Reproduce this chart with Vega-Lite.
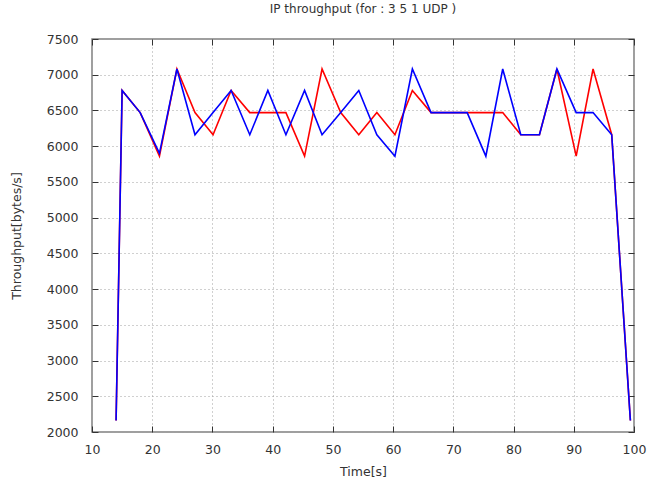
{
  "$schema": "https://vega.github.io/schema/vega-lite/v6.json",
  "autosize": "none",
  "width": 542,
  "height": 393,
  "padding": {"left": 92, "top": 39, "right": 14, "bottom": 53},
  "background": "white",
  "title": {"text": "IP throughput (for : 3 5 1 UDP )", "font": "DejaVu Sans", "fontSize": 12, "fontWeight": "normal", "color": "#333", "offset": 17},
  "config": {
    "view": {"stroke": "#808080", "strokeWidth": 1.5},
    "axis": {
      "labelFont": "DejaVu Sans", "labelFontSize": 12.5, "labelColor": "#333", "labelFlush": false,
      "titleFont": "DejaVu Sans", "titleFontSize": 12.5, "titleFontWeight": "normal", "titleColor": "#333",
      "domain": false, "tickColor": "#333", "tickSize": -6, "format": "d",
      "gridColor": "#a0a0a0", "gridDash": [1, 3], "gridOpacity": 1, "gridWidth": 1
    }
  },
  "datasets": {
    "red": [
      {"t": 14.0, "v": 2160}, {"t": 15.0, "v": 6780}, {"t": 18.0, "v": 6470}, {"t": 21.2, "v": 5860},
      {"t": 24.1, "v": 7080}, {"t": 27.1, "v": 6470}, {"t": 30.1, "v": 6160}, {"t": 33.1, "v": 6780},
      {"t": 36.2, "v": 6470}, {"t": 39.2, "v": 6470}, {"t": 42.2, "v": 6470}, {"t": 45.3, "v": 5860},
      {"t": 48.2, "v": 7080}, {"t": 51.3, "v": 6470}, {"t": 54.3, "v": 6160}, {"t": 57.3, "v": 6470},
      {"t": 60.3, "v": 6160}, {"t": 63.2, "v": 6780}, {"t": 66.3, "v": 6470}, {"t": 69.3, "v": 6470},
      {"t": 72.3, "v": 6470}, {"t": 75.4, "v": 6470}, {"t": 78.2, "v": 6470}, {"t": 81.2, "v": 6160},
      {"t": 84.3, "v": 6160}, {"t": 87.2, "v": 7080}, {"t": 90.4, "v": 5860}, {"t": 93.2, "v": 7080},
      {"t": 96.3, "v": 6160}, {"t": 99.4, "v": 2160}
    ],
    "blue": [
      {"t": 14.0, "v": 2160}, {"t": 15.0, "v": 6780}, {"t": 18.0, "v": 6470}, {"t": 21.2, "v": 5900},
      {"t": 24.1, "v": 7080}, {"t": 27.1, "v": 6160}, {"t": 30.1, "v": 6470}, {"t": 33.1, "v": 6780},
      {"t": 36.2, "v": 6160}, {"t": 39.2, "v": 6780}, {"t": 42.2, "v": 6160}, {"t": 45.3, "v": 6780},
      {"t": 48.2, "v": 6160}, {"t": 51.3, "v": 6470}, {"t": 54.3, "v": 6780}, {"t": 57.3, "v": 6160},
      {"t": 60.3, "v": 5860}, {"t": 63.2, "v": 7080}, {"t": 66.3, "v": 6470}, {"t": 69.3, "v": 6470},
      {"t": 72.3, "v": 6470}, {"t": 75.4, "v": 5860}, {"t": 78.2, "v": 7080}, {"t": 81.2, "v": 6160},
      {"t": 84.3, "v": 6160}, {"t": 87.2, "v": 7080}, {"t": 90.4, "v": 6470}, {"t": 93.2, "v": 6470},
      {"t": 96.3, "v": 6160}, {"t": 99.4, "v": 2160}
    ]
  },
  "layer": [
    {
      "data": {"name": "red"},
      "mark": {"type": "line", "color": "#ff0000", "strokeWidth": 1.6},
      "encoding": {
        "x": {"field": "t", "type": "quantitative", "scale": {"domain": [10, 100], "nice": false},
              "axis": {"title": "Time[s]", "values": [10,20,30,40,50,60,70,80,90,100], "grid": true, "labelPadding": 17, "titlePadding": 10}},
        "y": {"field": "v", "type": "quantitative", "scale": {"domain": [2000, 7500], "nice": false, "zero": false},
              "axis": {"title": "Throughput[bytes/s]", "values": [2000,2500,3000,3500,4000,4500,5000,5500,6000,6500,7000,7500], "grid": true, "labelPadding": 20, "titlePadding": 23}}
      }
    },
    {
      "data": {"name": "blue"},
      "mark": {"type": "line", "color": "#0000ff", "strokeWidth": 1.6},
      "encoding": {
        "x": {"field": "t", "type": "quantitative", "scale": {"domain": [10, 100], "nice": false},
              "axis": {"orient": "top", "title": null, "labels": false, "grid": false, "values": [10,20,30,40,50,60,70,80,90,100]}},
        "y": {"field": "v", "type": "quantitative", "scale": {"domain": [2000, 7500], "nice": false, "zero": false},
              "axis": {"orient": "right", "title": null, "labels": false, "grid": false, "values": [2000,2500,3000,3500,4000,4500,5000,5500,6000,6500,7000,7500]}}
      }
    }
  ],
  "resolve": {"axis": {"x": "independent", "y": "independent"}}
}
